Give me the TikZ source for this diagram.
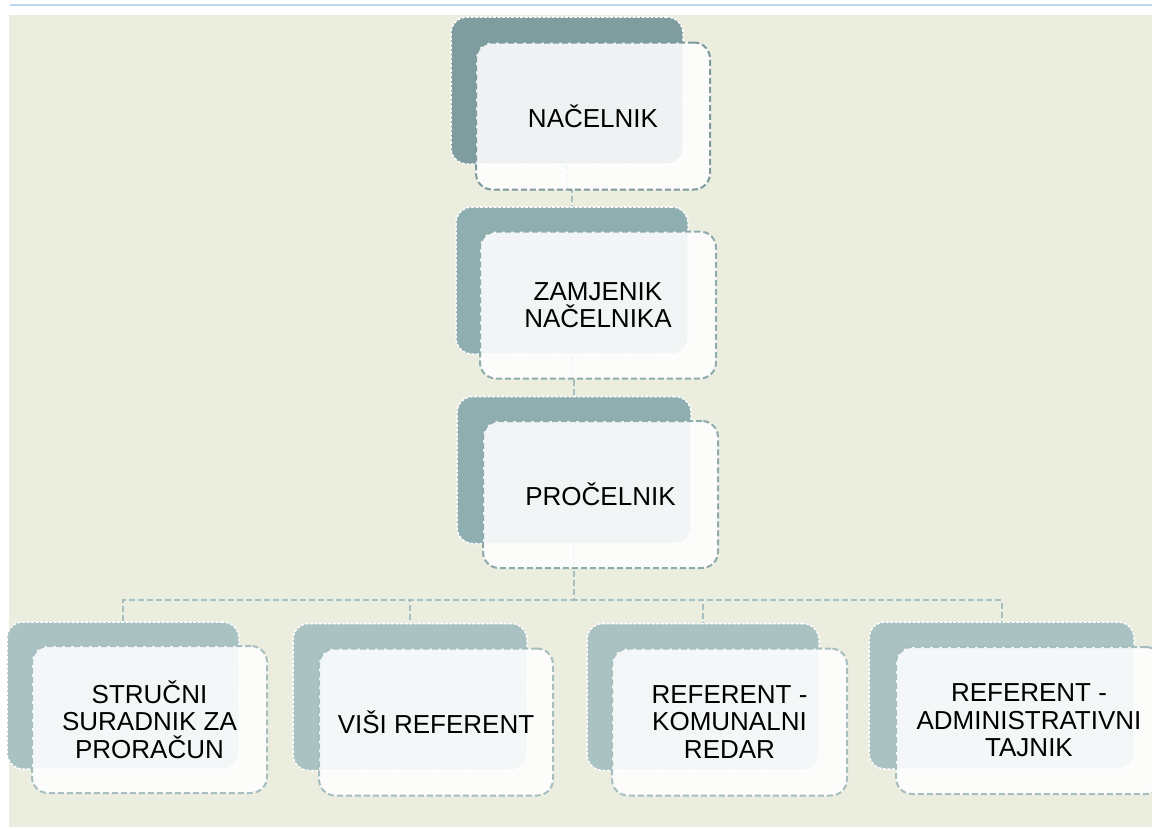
\documentclass[tikz,border=0pt]{standalone}
\usepackage{fontspec}
\setmainfont{Liberation Sans}
\usetikzlibrary{calc}
\definecolor{bgc}{HTML}{EBEEDE}
\definecolor{bluec}{HTML}{BDD7EE}
\definecolor{backA}{HTML}{7F9C9E}
\definecolor{backB}{HTML}{8FAEB0}
\definecolor{backC}{HTML}{ABC2C3}
\definecolor{edgeA}{HTML}{7D9A9C}
\definecolor{edgeB}{HTML}{8DAAAC}
\definecolor{edgeC}{HTML}{A6BEC0}
\definecolor{linkc}{HTML}{A6BFC0}
\begin{document}
\begin{tikzpicture}[x=1pt,y=-1pt,
  backbox/.style={draw=white, line width=1.5pt, dash pattern=on 3pt off 1.5pt,
    rounded corners=16pt, minimum height=147pt, inner sep=0pt},
  frontbox/.style={fill=white, fill opacity=0.88, text opacity=1, line width=2pt,
    dash pattern=on 6pt off 3pt, rounded corners=16pt, minimum height=147pt,
    inner sep=0pt, align=center, text=black,
    font=\fontsize{26}{27.5}\selectfont},
  link/.style={draw=linkc, line width=2pt, dash pattern=on 6pt off 3pt}]
\path[use as bounding box] (0,0) rectangle (1152,828);
\clip (0,0) rectangle (1152,828);
\fill[bgc] (9,15) rectangle (1152,827);
\draw[bluec, line width=1.2pt] (10,5) -- (1152,5);

% back boxes
\node[backbox, fill=backA, minimum width=232pt] (b1) at (567,90.5) {};
\node[backbox, fill=backB, minimum width=232pt] (b2) at (572,280.5) {};
\node[backbox, fill=backB, minimum width=234pt] (b3) at (574,470) {};
\node[backbox, fill=backC, minimum width=232pt] (c1) at (123,695.5) {};
\node[backbox, fill=backC, minimum width=234pt] (c2) at (410,697) {};
\node[backbox, fill=backC, minimum width=232pt] (c3) at (703,697) {};
\node[backbox, fill=backC, minimum width=265pt] (c4) at (1001.5,695.5) {};

% connectors
\coordinate (m12) at (0,190);
\coordinate (m23) at (0,380);
\coordinate (hy) at (0,600);
\draw[link] (b1.south) -- (b1.south |- m12) -| (b2.north);
\draw[link] (b2.south) -- (b2.south |- m23) -| (b3.north);
\draw[link] (b3.south) -- (b3.south |- hy) -| (c1.north);
\draw[link] (b3.south) -- (b3.south |- hy) -| (c2.north);
\draw[link] (b3.south) -- (b3.south |- hy) -| (c3.north);
\draw[link] (b3.south) -- (b3.south |- hy) -| (c4.north);

% front boxes
\node[frontbox, draw=edgeA, minimum width=234pt] (f1) at (593,116) {NAČELNIK};
\node[frontbox, draw=edgeB, minimum width=236pt] (f2) at (598,305) {ZAMJENIK\\NAČELNIKA};
\node[frontbox, draw=edgeB, minimum width=235pt] (f3) at (600.5,494.5) {PROČELNIK};
\node[frontbox, draw=edgeC, minimum width=235pt] (g1) at (149.5,719.5) {STRUČNI\\SURADNIK ZA\\PRORAČUN};
\node[frontbox, draw=edgeC, minimum width=234pt] (g2) at (436,722) {VIŠI REFERENT};
\node[frontbox, draw=edgeC, minimum width=235pt] (g3) at (729.5,722) {REFERENT -\\KOMUNALNI\\REDAR};
\node[frontbox, draw=edgeC, minimum width=266pt] (g4) at (1029,720.5) {REFERENT -\\ADMINISTRATIVNI\\TAJNIK};
\end{tikzpicture}
\end{document}
